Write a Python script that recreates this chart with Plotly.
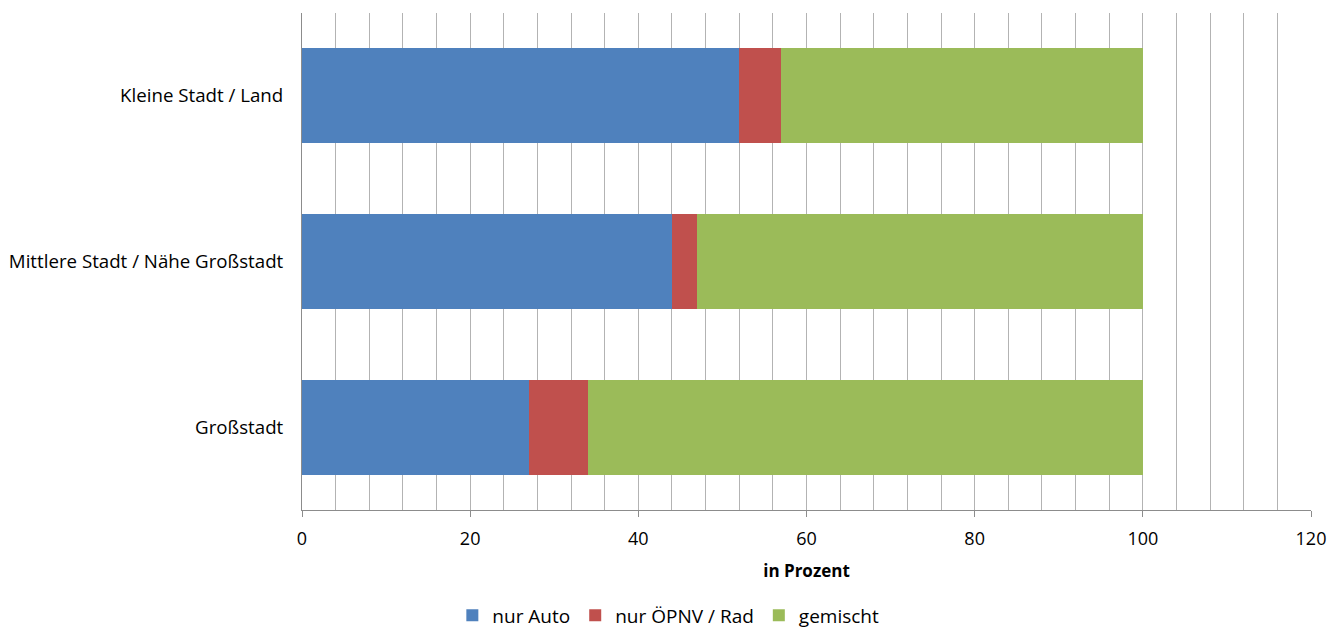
import plotly.graph_objects as go

# Categories listed bottom-to-top as drawn on the y axis
categories = ["Großstadt", "Mittlere Stadt / Nähe Großstadt", "Kleine Stadt / Land"]
nur_auto = [27, 44, 52]
nur_oepnv_rad = [7, 3, 5]
gemischt = [66, 53, 43]

series = [
    ("nur Auto", nur_auto, "#4F81BD"),
    ("nur ÖPNV / Rad", nur_oepnv_rad, "#C0504D"),
    ("gemischt", gemischt, "#9BBB59"),
]

font_family = "'Open Sans', sans-serif"

fig = go.Figure()
for name, vals, color in series:
    fig.add_trace(go.Bar(
        y=categories, x=vals, name=name, orientation="h",
        marker=dict(color=color, line=dict(width=0)),
    ))

fig.update_layout(
    barmode="stack",
    bargap=0.427,
    width=1329, height=636,
    margin=dict(l=302, r=18, t=13, b=126, autoexpand=False),
    paper_bgcolor="white", plot_bgcolor="white",
    font=dict(family=font_family, size=18, color="#000000"),
    legend=dict(
        orientation="h", x=0.149, xanchor="left", y=-0.212, yanchor="middle",
        font=dict(size=19), itemwidth=30, traceorder="normal",
    ),
    showlegend=True,
)

fig.update_xaxes(
    range=[0, 120], dtick=20, tick0=0,
    showgrid=True, gridcolor="#b3b3b3", gridwidth=1,
    minor=dict(dtick=4, showgrid=True, gridcolor="#b3b3b3", gridwidth=1),
    showline=True, linecolor="#8c8c8c", linewidth=1,
    ticks="outside", ticklen=6, tickcolor="#8c8c8c",
    tickfont=dict(size=18), ticklabelstandoff=6,
    title=dict(text="<b>in Prozent</b>", font=dict(size=17), standoff=16),
    zeroline=False, fixedrange=True, automargin=False,
)
fig.update_yaxes(
    showline=True, linecolor="#8c8c8c", linewidth=1,
    ticks="", ticklabelstandoff=14,
    tickfont=dict(size=18.7),
    showgrid=False, fixedrange=True, automargin=False,
)

fig.write_html("out.html")
